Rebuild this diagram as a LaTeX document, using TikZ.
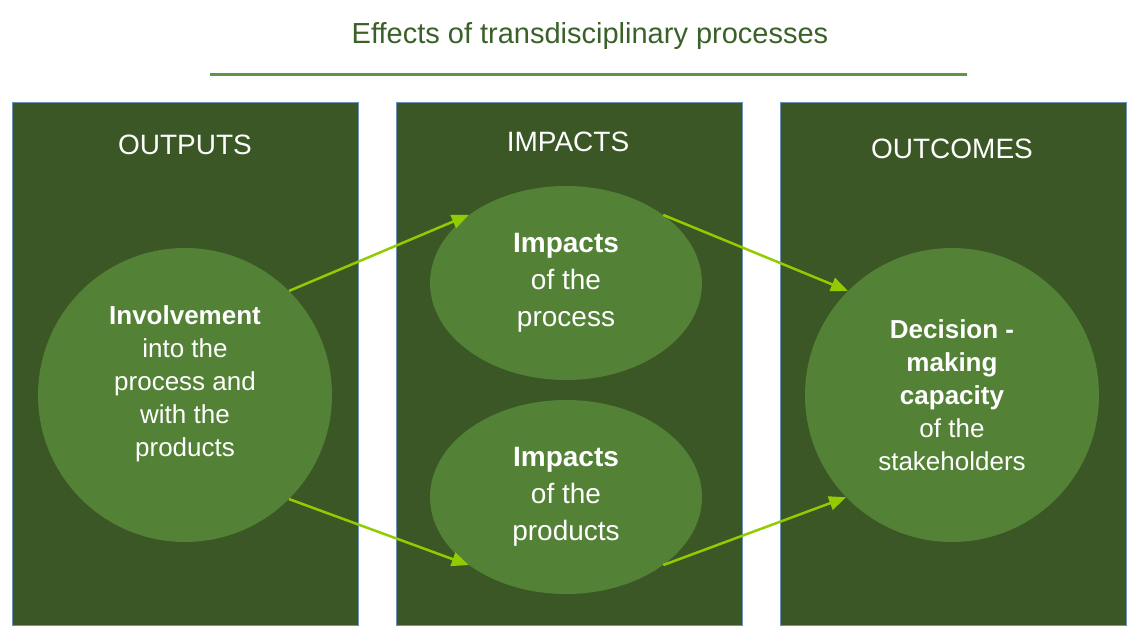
\documentclass[tikz,border=0pt]{standalone}
\usepackage{fontspec}
\setmainfont{Liberation Sans}
\usetikzlibrary{shapes.geometric,arrows.meta}
\definecolor{boxgreen}{RGB}{58,87,37}
\definecolor{blobgreen}{RGB}{83,129,53}
\definecolor{arrowgreen}{RGB}{146,204,0}
\definecolor{titlegreen}{RGB}{58,98,40}
\definecolor{rulegreen}{RGB}{92,150,70}
\definecolor{boxedge}{RGB}{110,145,185}
\begin{document}
\begin{tikzpicture}[x=1bp,y=-1bp,
  column/.style={fill=boxgreen,draw=boxedge,line width=1bp},
  heading/.style={text=white,font=\fontsize{28bp}{34bp}\selectfont},
  blob/.style={circle,fill=blobgreen,minimum size=294bp,inner sep=0pt},
  oval/.style={ellipse,fill=blobgreen,minimum width=272bp,minimum height=194bp,inner sep=0pt},
  blobtext/.style={text=white,align=center,font=\fontsize{26bp}{33bp}\selectfont},
  ovaltext/.style={text=white,align=center,font=\fontsize{28bp}{37bp}\selectfont},
  link/.style={draw=arrowgreen,line width=2.5bp,-{Triangle[length=17bp,width=14bp]}}]
\useasboundingbox (0,0) rectangle (1129,630);
% title and rule
\node[text=titlegreen,font=\fontsize{29bp}{35bp}\selectfont] (title) at (590,36) {Effects of transdisciplinary processes};
\draw[rulegreen,line width=3bp] (210,75) -- (967,75);
% three columns
\foreach \x in {12,396,780}
  \draw[column] (\x,103) rectangle ++(346,522);
\node[heading] (outputs) at (185,145) {OUTPUTS};
\node[heading] (impacts) at (568,142) {IMPACTS};
\node[heading] (outcomes) at (952,149) {OUTCOMES};
% circles and ellipses
\node[blob] (involve) at (185,395) {};
\node[blobtext] (involvetext) at (185,384) {\textbf{Involvement}\\into the\\process and\\with the\\products};
\node[oval,ovaltext] (process) at (566,283) {\textbf{Impacts}\\of the\\process};
\node[oval,ovaltext] (products) at (566,497) {\textbf{Impacts}\\of the\\products};
\node[blob,blobtext] (decision) at (952,395) {\textbf{Decision -}\\\textbf{making}\\\textbf{capacity}\\of the\\stakeholders};
% arrows
\draw[link] (involve.45) -- (process.145);
\draw[link] (involve.-45) -- (products.215);
\draw[link] (process.35) -- (decision.135);
\draw[link] (products.-35) -- (decision.224);
\end{tikzpicture}
\end{document}
